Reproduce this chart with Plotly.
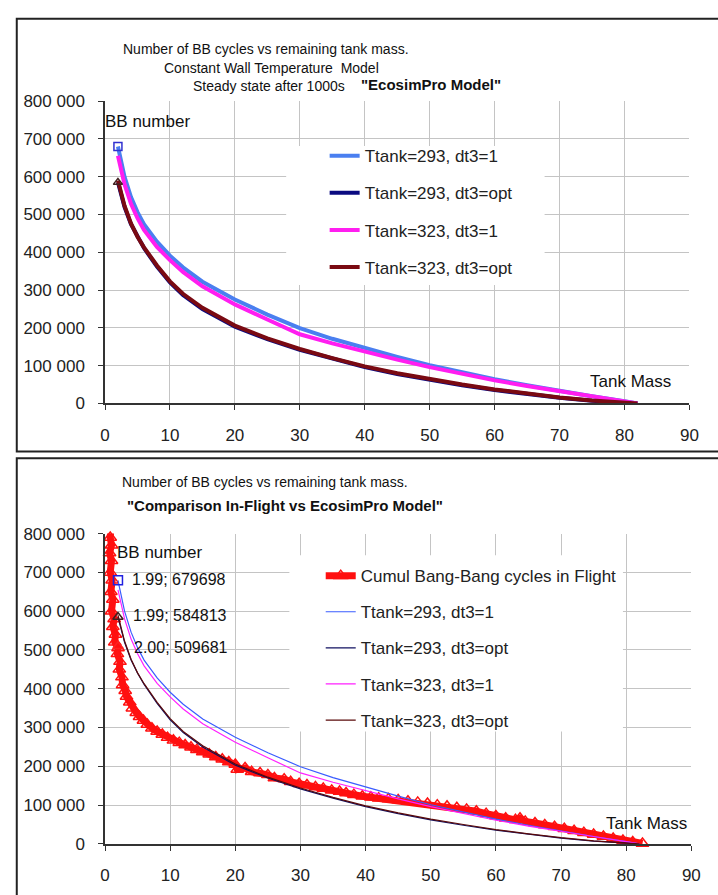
import plotly.graph_objects as go

W, H = 718, 895

# ---------------- data ----------------
model_mass = [1.99, 3, 4, 5, 6, 8, 10, 12, 15, 20, 25, 30, 35, 40, 45, 50, 55, 60, 65, 70, 75, 80, 82]
t293_dt1 = [679698, 600000, 546000, 506000, 474000, 428000, 391000, 360000, 322000, 275000, 235000, 199000, 171000, 146000, 123000, 101000, 82000, 64000, 48000, 33000, 19000, 6000, 0]
t293_opt = [584813, 520000, 474000, 440000, 411000, 362000, 320000, 287000, 250000, 203000, 170000, 142000, 118000, 96000, 78000, 62000, 48000, 35500, 25000, 15000, 7000, 1500, 0]
t323_dt1 = [655000, 580000, 528000, 490000, 459000, 414000, 379000, 348000, 310000, 262000, 222000, 183000, 159000, 137000, 116000, 96000, 78000, 61000, 46000, 32000, 19000, 6000, 0]
t323_opt = [590000, 523000, 476000, 441000, 413000, 365000, 323000, 290000, 253000, 206000, 172000, 144000, 120000, 98000, 80000, 64000, 50000, 37000, 26000, 16000, 8000, 2000, 0]

flight_mass = [0.9, 0.8, 1.0, 0.7, 1.0, 0.8, 1.1, 0.9, 1.2, 1.0, 1.4, 1.2, 1.6, 1.5, 2.0, 1.9, 2.3, 2.2,
               2.6, 2.7, 3.1, 3.3, 3.8, 4.2, 4.8, 5.3, 5.9, 6.5, 7.2, 8.0, 8.8, 9.6, 10.5, 11.4, 12.3,
               13.2, 14.1, 15.0, 16.0, 17.0, 18.0, 19.0, 20.0, 20.3, 21.5, 22.5, 23.8, 25.0, 26.0,
               27.5, 28.5, 29.8, 31.0, 32.3, 33.5, 34.8, 36.0, 37.0, 38.2, 39.5, 40.8, 42.0, 43.5,
               45.0, 46.5, 48.0, 49.5, 51.0, 52.5, 54.0, 55.5, 57.0, 58.5, 60.0, 61.5, 63.0, 63.7,
               64.5, 66.0, 67.5, 69.0, 70.5, 72.0, 73.5, 75.0, 76.5, 78.0, 79.5, 81.0, 82.5]
flight_cycles = [815000, 790000, 770000, 750000, 730000, 700000, 680000, 650000, 630000, 600000, 580000,
                 560000, 540000, 520000, 505000, 490000, 470000, 450000, 430000, 410000, 395000, 380000,
                 365000, 350000, 338000, 328000, 318000, 308000, 298000, 290000, 282000, 274000, 267000,
                 261000, 255000, 249000, 243000, 237000, 231000, 224000, 218000, 211000, 205000, 192000,
                 196000, 186000, 183000, 178000, 170000, 167000, 160000, 155000, 152000, 147000, 143000,
                 138000, 135000, 131000, 127000, 123000, 120000, 118000, 116000, 113000, 110000, 107000,
                 104000, 100000, 97000, 93000, 89000, 84000, 78000, 72000, 66000, 62000, 66000, 58000,
                 54000, 49000, 44000, 39000, 34000, 29000, 24000, 19000, 14000, 9000, 5000, 1000]

label_mass = [1.99, 1.99, 2.00]
label_cycles = [679698, 584813, 509681]
label_texts = ["1.99; 679698", "1.99; 584813", "2.00; 509681"]

series_names = ["Ttank=293, dt3=1", "Ttank=293, dt3=opt", "Ttank=323, dt3=1", "Ttank=323, dt3=opt"]
flight_name = "Cumul Bang-Bang cycles in Flight"
x_ticks = [0, 10, 20, 30, 40, 50, 60, 70, 80, 90]
y_ticks = [0, 100000, 200000, 300000, 400000, 500000, 600000, 700000, 800000]

FONT = "Liberation Sans, Arial, sans-serif"


def px(x):
    return x / W


def py(y):
    return 1 - y / H


top_colors = ["#4a7ff0", "#0a0a80", "#ff1ef0", "#7a0a12"]
bot_colors = ["#3a5cff", "#101060", "#ff20ff", "#5a0a0a"]
model_series = [t293_dt1, t293_opt, t323_dt1, t323_opt]

fig = go.Figure()

# ---------- top panel ----------
for name, vals, c in zip(series_names, model_series, top_colors):
    fig.add_trace(go.Scatter(x=model_mass, y=vals, mode="lines", name=name,
                             line=dict(color=c, width=4), xaxis="x", yaxis="y",
                             legend="legend", legendgroup="t" + name))
fig.add_trace(go.Scatter(x=[label_mass[0]], y=[label_cycles[0]], mode="markers", showlegend=False,
                         marker=dict(symbol="square-open", size=8, color="#3030d0", line=dict(width=1.5)),
                         xaxis="x", yaxis="y"))
fig.add_trace(go.Scatter(x=[label_mass[1]], y=[label_cycles[1]], mode="markers", showlegend=False,
                         marker=dict(symbol="triangle-up-open", size=8, color="#402020", line=dict(width=1.5)),
                         xaxis="x", yaxis="y"))

# ---------- bottom panel ----------
fig.add_trace(go.Scatter(x=flight_mass, y=flight_cycles, mode="lines+markers", name=flight_name,
                         line=dict(color="#ff1010", width=7),
                         marker=dict(symbol="triangle-up-open", size=11, color="#ff1010", line=dict(width=1.5)),
                         cliponaxis=False, xaxis="x2", yaxis="y2", legend="legend2", legendgroup="flight"))
for name, vals, c in zip(series_names, model_series, bot_colors):
    fig.add_trace(go.Scatter(x=model_mass, y=vals, mode="lines", name=name,
                             line=dict(color=c, width=1.2), xaxis="x2", yaxis="y2",
                             legend="legend2", legendgroup="b" + name))
fig.add_trace(go.Scatter(x=label_mass, y=label_cycles, mode="markers", showlegend=False,
                         marker=dict(symbol=["square-open", "triangle-up-open", "triangle-up-open"], size=9,
                                     color=["#2020e0", "#402020", "#ff2020"], line=dict(width=1.5)),
                         xaxis="x2", yaxis="y2"))

axis_common = dict(showgrid=True, gridcolor="#c4c4c4", gridwidth=1, showline=True, linecolor="#333333",
                   linewidth=1.5, ticks="outside", ticklen=5, tickcolor="#333333", zeroline=False,
                   tickfont=dict(family=FONT, size=17, color="#222222"))

fig.update_layout(
    width=W, height=H, margin=dict(l=0, r=0, t=0, b=0),
    paper_bgcolor="white", plot_bgcolor="white",
    separators=". ",
    font=dict(family=FONT, color="#222222"),
    xaxis=dict(domain=[px(102), px(698)], anchor="y", range=[0, 90], tickvals=x_ticks,
               ticklabelstandoff=10, **axis_common),
    yaxis=dict(domain=[py(403), py(94)], anchor="x", range=[0, 800000], tickvals=y_ticks,
               tickformat=",d", ticklabelstandoff=10, **axis_common),
    xaxis2=dict(domain=[px(102), px(700)], anchor="y2", range=[0, 90], tickvals=x_ticks,
                ticklabelstandoff=10, **axis_common),
    yaxis2=dict(domain=[py(853), py(536)], anchor="x2", range=[0, 800000], tickvals=y_ticks,
                tickformat=",d", ticklabelstandoff=10, **axis_common),
    legend=dict(x=px(326), y=py(132), xanchor="left", yanchor="top", bgcolor="rgba(0,0,0,0)",
                font=dict(family=FONT, size=17, color="#222222"), tracegroupgap=12),
    legend2=dict(x=px(322), y=py(561), xanchor="left", yanchor="top", bgcolor="rgba(0,0,0,0)",
                 font=dict(family=FONT, size=17, color="#222222"), tracegroupgap=11),
    showlegend=True,
)

shapes = [
    # frames
    dict(type="rect", xref="paper", yref="paper", x0=px(12), x1=1.05, y0=py(452), y1=py(10),
         line=dict(color="#222222", width=2), layer="below"),
    dict(type="rect", xref="paper", yref="paper", x0=px(12), x1=1.05, y0=-0.05, y1=py(459),
         line=dict(color="#222222", width=2), layer="below"),
    # white legend backgrounds (above gridlines, below traces)
    dict(type="rect", xref="x", yref="y", x0=27.9, x1=67.7, y0=313000, y1=681000,
         fillcolor="white", line=dict(width=0), layer="between"),
    dict(type="rect", xref="x2", yref="y2", x0=28.3, x1=79.5, y0=290000, y1=744000,
         fillcolor="white", line=dict(width=0), layer="between"),
]
fig.update_layout(shapes=shapes)

ann = []


def text(x, y, s, size, bold=False, anchor="center"):
    ann.append(dict(x=px(x), y=py(y), xref="paper", yref="paper", text=("<b>%s</b>" % s) if bold else s,
                    showarrow=False, xanchor=anchor, yanchor="middle",
                    font=dict(family=FONT, size=size, color="#111111")))


# top titles
text(266, 41, "Number of BB cycles vs remaining tank mass.", 14)
text(272, 60, "Constant Wall Temperature  Model", 14)
text(269, 79, "Steady state after 1000s", 14)
text(434, 77, "\"EcosimPro Model\"", 15, bold=True)
text(100, 115, "BB number", 17, anchor="left")
text(638, 381, "Tank Mass", 17)

# bottom titles
text(265, 483, "Number of BB cycles vs remaining tank mass.", 14)
text(286, 507, "\"Comparison In-Flight vs EcosimPro Model\"", 15, bold=True)
text(112, 555, "BB number", 17, anchor="left")
text(654, 832, "Tank Mass", 17)
for s, (lx, ly) in zip(label_texts, [(127, 583), (128, 620), (130, 652)]):
    text(lx, ly, s, 16, anchor="left")

fig.update_layout(annotations=ann)

fig.write_html("out.html")
